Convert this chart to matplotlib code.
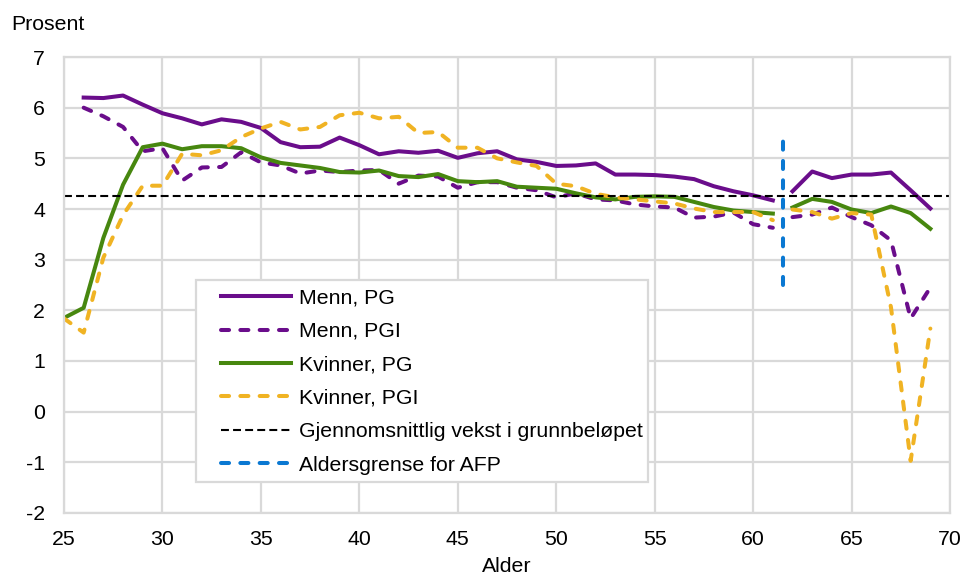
"""
Plot annual growth in pension base by age for men and women, with the
average growth in the basic amount and the AFP age limit marked.
"""

import numpy as np
import matplotlib
matplotlib.use("Agg")
import matplotlib.pyplot as plt
from matplotlib.patches import Rectangle


nan = np.nan

ages = np.arange(25, 70)
menn_pg = [
	nan, 6.20, 6.19, 6.24, 6.06, 5.89, 5.79, 5.67, 5.77, 5.72,
	5.60, 5.32, 5.22, 5.23, 5.41, 5.26, 5.08, 5.14, 5.11, 5.15,
	5.01, 5.10, 5.14, 4.98, 4.93, 4.85, 4.86, 4.90, 4.68, 4.68,
	4.67, 4.64, 4.59, 4.45, 4.35, 4.27, 4.17, 4.35, 4.74, 4.61,
	4.68, 4.68, 4.72, 4.37, 4.01,
]
menn_pgi = [
	nan, 6.00, 5.83, 5.62, 5.14, 5.20, 4.56, 4.82, 4.83, 5.12,
	4.92, 4.86, 4.70, 4.76, 4.73, 4.76, 4.77, 4.50, 4.66, 4.64,
	4.42, 4.53, 4.53, 4.42, 4.37, 4.23, 4.31, 4.19, 4.17, 4.09,
	4.05, 4.03, 3.83, 3.85, 3.93, 3.70, 3.63, 3.84, 3.89, 4.03,
	3.84, 3.68, 3.38, 1.84, 2.45,
]
kvinner_pg = [
	1.85, 2.05, 3.43, 4.48, 5.22, 5.29, 5.18, 5.24, 5.24, 5.20,
	5.02, 4.91, 4.86, 4.81, 4.73, 4.72, 4.76, 4.65, 4.63, 4.69,
	4.55, 4.53, 4.55, 4.44, 4.42, 4.40, 4.31, 4.23, 4.19, 4.24,
	4.25, 4.24, 4.14, 4.04, 3.97, 3.94, 3.91, 4.03, 4.20, 4.14,
	3.99, 3.92, 4.05, 3.92, 3.61,
]
kvinner_pgi = [
	1.84, 1.56, 3.04, 3.88, 4.46, 4.46, 5.09, 5.06, 5.16, 5.42,
	5.59, 5.72, 5.57, 5.62, 5.85, 5.90, 5.79, 5.82, 5.50, 5.52,
	5.21, 5.21, 5.00, 4.92, 4.85, 4.50, 4.45, 4.30, 4.23, 4.19,
	4.15, 4.11, 4.01, 3.94, 3.94, 3.94, 3.78, 3.99, 3.94, 3.81,
	3.92, 3.89, 2.06, -0.97, 1.64,
]
g_growth = 4.25
afp_age = 61.5
afp_span = [2.5, 5.5]

x_ticks = np.arange(25, 71, 5)
y_ticks = np.arange(-2, 8, 1)

PURPLE = "#6a0d8b"
GREEN = "#47870f"
YELLOW = "#f0b323"
BLUE = "#0a78d2"
GRID = "#d9d9d9"

plt.rcParams["font.family"] = ["Liberation Sans", "DejaVu Sans"]
plt.rcParams["font.size"] = 15.3
plt.rcParams["axes.unicode_minus"] = False


def plot_split(ax, values, label, **style):
	"""
	Draw a series as two pieces, broken either side of the AFP age line.
	"""
	values = np.asarray(values, dtype=float)
	before = ages < afp_age
	ax.plot(ages[before], values[before], label=label, **style)
	ax.plot(ages[~before], values[~before], **style)


fig = plt.figure(figsize=(9.65, 5.76), dpi=100)
ax = fig.add_axes([0.0663, 0.1094, 0.9182, 0.7916])

lw = 2.9
dash = dict(linestyle=(0, (2, 2.8)), dash_capstyle="round")
plot_split(ax, menn_pg, "Menn, PG", color=PURPLE, lw=lw)
plot_split(ax, menn_pgi, "Menn, PGI", color=PURPLE, lw=lw, **dash)
plot_split(ax, kvinner_pg, "Kvinner, PG", color=GREEN, lw=lw)
plot_split(ax, kvinner_pgi, "Kvinner, PGI", color=YELLOW, lw=lw, **dash)
ax.axhline(g_growth, color="black", lw=1.5, linestyle=(0, (3.8, 2)),
	label="Gjennomsnittlig vekst i grunnbeløpet")
ax.plot([afp_age, afp_age], afp_span, color=BLUE, lw=lw,
	label="Aldersgrense for AFP", **dash)

ax.set_xlim(25, 70)
ax.set_ylim(-2, 7)
ax.set_xticks(x_ticks)
ax.set_yticks(y_ticks)
ax.grid(True, color=GRID, lw=1.6)
ax.set_axisbelow(True)
ax.tick_params(axis="x", length=0, pad=12)
ax.tick_params(axis="y", length=0, pad=13.5)
for spine in ax.spines.values():
	spine.set_color(GRID)
	spine.set_linewidth(1.6)
ax.set_xlabel("Alder", labelpad=6)
fig.text(0.012, 0.958, "Prosent", ha="left", va="center")

# Legend box is drawn separately so the padding can be wider on the left
ax.add_patch(Rectangle(
	(0.149, 0.068), 0.51, 0.443, transform=ax.transAxes,
	facecolor="white", edgecolor=GRID, lw=1.6, zorder=4,
))
leg = ax.legend(
	loc="upper left", bbox_to_anchor=(0.168, 0.511), borderaxespad=0,
	handlelength=3.3, handletextpad=0.35, labelspacing=0.68,
	borderpad=0.4, frameon=False,
)
leg.set_zorder(5)

fig.savefig("out.png", dpi=100)
